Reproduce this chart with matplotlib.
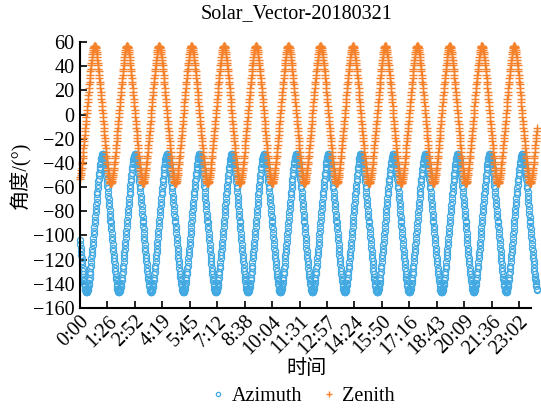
import numpy as np
import matplotlib
matplotlib.use("Agg")
import matplotlib.pyplot as plt

plt.rcParams['font.family'] = ['Liberation Serif', 'Noto Sans CJK SC', 'DejaVu Sans']
plt.rcParams['axes.unicode_minus'] = True

# one orbit, 1-min samples, minute offset -51..50 around each zenith peak
zenith_orbit = [-57, -57, -57, -56, -55, -53, -52, -50, -48, -46, -44, -41, -39, -36, -34, -31, -28,
                -25, -22, -19, -17, -14, -11, -8, -5, -2, 1, 4, 7, 10, 13, 16, 19, 22, 25, 27, 30,
                33, 36, 38, 41, 43, 45, 48, 50, 52, 53, 55, 56, 56, 57, 57, 57, 56, 56, 55, 53, 52,
                50, 48, 45, 43, 41, 38, 36, 33, 30, 27, 25, 22, 19, 16, 13, 10, 7, 4, 1, -2, -5, -8,
                -11, -14, -17, -19, -22, -25, -28, -31, -34, -36, -39, -41, -44, -46, -48, -50, -52,
                -53, -55, -56, -57, -57]
azimuth_orbit = [-89, -92, -95, -98, -101, -104, -107, -110, -113, -116, -119, -121, -124, -127,
                 -129, -132, -134, -136, -138, -140, -142, -144, -145, -146, -147, -147, -147, -147,
                 -146, -145, -144, -143, -141, -139, -137, -135, -132, -130, -127, -125, -122, -119,
                 -116, -114, -111, -108, -105, -102, -99, -96, -93, -90, -87, -84, -81, -78, -75,
                 -72, -69, -66, -64, -61, -58, -55, -53, -50, -48, -45, -43, -41, -39, -37, -36,
                 -35, -34, -33, -33, -33, -33, -34, -35, -36, -38, -40, -42, -44, -46, -48, -51,
                 -53, -56, -59, -61, -64, -67, -70, -73, -76, -79, -82, -85, -88]
orbit_offsets = list(range(-51, 51))
# minute of day at which each zenith peak occurs
peak_minutes = [46, 148, 249, 351, 453, 554, 656, 757, 859, 961, 1062, 1164, 1265, 1367, 1468]

tick_minutes = [0, 86.4, 172.8, 259.2, 345.6, 432, 518.4, 604.8, 691.2, 777.6, 864, 950.4,
                1036.8, 1123.2, 1209.6, 1296, 1382.4]
tick_labels = ["0:00", "1:26", "2:52", "4:19", "5:45", "7:12", "8:38", "10:04", "11:31",
               "12:57", "14:24", "15:50", "17:16", "18:43", "20:09", "21:36", "23:02"]

t = np.concatenate([p + np.array(orbit_offsets) for p in peak_minutes])
zen = np.tile(zenith_orbit, len(peak_minutes))
azi = np.tile(azimuth_orbit, len(peak_minutes))
keep = (t >= 0) & (t <= 1439)
t, zen, azi = t[keep], zen[keep], azi[keep]

blue = '#42A9E2'
orange = '#F5812A'
fs = 14.5

fig = plt.figure(figsize=(5.41, 4.09), dpi=100)
ax = fig.add_axes([80 / 541, 1 - 308 / 409, 451 / 541, 266 / 409])

ax.plot(t, azi, linestyle='none', marker='o', markersize=4.4, markerfacecolor='none',
        markeredgecolor=blue, markeredgewidth=0.9, label='Azimuth', clip_on=False)
ax.plot(t, zen, linestyle='none', marker='+', markersize=5.5, color=orange,
        markeredgewidth=1.0, label='Zenith', clip_on=False)

ax.set_xlim(0, 1420)
ax.set_ylim(-160, 60)
ax.set_yticks(np.arange(-160, 61, 20))
ax.set_xticks(tick_minutes)
ax.set_xticklabels(tick_labels, rotation=45, ha='right', rotation_mode='anchor')

for s in ['top', 'right']:
    ax.spines[s].set_visible(False)
for s in ['left', 'bottom']:
    ax.spines[s].set_linewidth(1.5)
ax.tick_params(direction='in', length=5, width=1.2, labelsize=fs)
ax.tick_params(axis='x', pad=3)
ax.tick_params(axis='y', pad=4)

ax.set_title('Solar_Vector-20180321', fontsize=fs, x=0.48, pad=17)
ax.set_ylabel('角度/(°)', fontsize=fs, labelpad=2)
fig.text(0.567, 1 - 369 / 409, '时间', ha='center', va='center', fontsize=fs)

fig.legend(loc='center', bbox_to_anchor=(0.56, 1 - 396 / 409), ncol=2, frameon=False,
           fontsize=fs, markerscale=0.7, handlelength=0.7, handletextpad=0.3, columnspacing=1.0)

fig.savefig('out.png', dpi=100)
